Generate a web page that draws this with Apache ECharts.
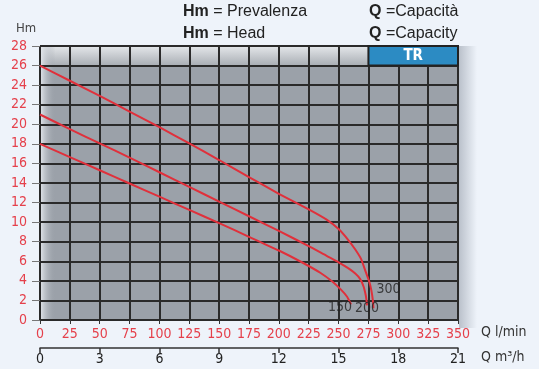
<!DOCTYPE html>
<html><head><meta charset="utf-8">
<script src="https://cdn.jsdelivr.net/npm/echarts@6/dist/echarts.min.js"></script>
<style>html,body{margin:0;padding:0;background:#eef3fa}#c{width:539px;height:369px}</style>
</head><body><div id="c"></div>
<script>
// Data (Q in l/min, H in m)
const curveNames = ['150', '200', '300'];
const q150 = [0, 25, 50, 75, 100, 125, 150, 175, 200, 220, 235, 245, 252, 257, 260.5];
const h150 = [18, 16.65, 15.3, 13.95, 12.6, 11.25, 9.9, 8.5, 7.1, 5.85, 4.8, 3.9, 3.1, 2.4, 1.6];
const q200 = [0, 25, 50, 75, 100, 125, 150, 175, 200, 225, 240, 250, 258, 264, 268, 271, 272.8, 273.5, 273.8];
const h200 = [21, 19.5, 18.05, 16.6, 15.1, 13.6, 12.1, 10.6, 9.1, 7.55, 6.55, 5.9, 5.3, 4.75, 4.2, 3.4, 2.5, 1.9, 1.5];
const q300 = [0, 25, 50, 75, 100, 125, 150, 175, 200, 225, 240, 250, 258, 264, 269, 272.5, 275.5, 277.5, 278.7, 279.2];
const h300 = [26, 24.45, 22.9, 21.3, 19.7, 18.05, 16.35, 14.6, 12.9, 11.3, 10.25, 9.3, 8.2, 7.2, 6.2, 5.0, 4.0, 3.0, 2.0, 1.2];
const qLpmMax = 350, qLpmStep = 25;
const qM3hMax = 21, qM3hStep = 3;
const hMax = 28, hStep = 2;
const modelLabel = 'TR';
const modelFrom = 275;

const red = '#e5404b';
const narrow = "'Liberation Sans Narrow','DejaVu Sans Condensed','Liberation Sans',sans-serif";
const sans = "'Liberation Sans',Arial,sans-serif";

const curves = [[q150, h150], [q200, h200], [q300, h300]];
const labelOffsets = [[-11, 3], [0, 3], [15, -19]];

const chart = echarts.init(document.getElementById('c'), null, {renderer: 'canvas'});
const lineSeries = curves.map((c, i) => ({
  name: curveNames[i], type: 'line', z: 3,
  data: c[0].map((q, j) => [q, c[1][j]]),
  smooth: 0.15, showSymbol: false, symbol: 'none',
  lineStyle: {color: '#e0303b', width: 2},
  silent: true
}));
const labelSeries = {
  type: 'scatter', z: 4, symbolSize: 1, itemStyle: {color: 'rgba(0,0,0,0)'},
  data: curves.map((c, i) => ({
    value: [c[0][c[0].length - 1], c[1][c[1].length - 1]],
    label: {show: true, formatter: curveNames[i], position: 'inside', offset: labelOffsets[i],
      color: '#222', fontSize: 14, fontFamily: narrow}
  })),
  silent: true
};
const bgSeries = {
  type: 'line', data: [], z: -1, silent: true,
  markArea: {silent: true, z: -1, data: [
    [{coord: [0, 0], itemStyle: {color: '#9ba1a9'}}, {coord: [qLpmMax, hMax]}],
    [{coord: [0, hMax - hStep], itemStyle: {color: new echarts.graphic.LinearGradient(0, 0, 0, 1, [
      {offset: 0, color: '#e4e7ea'}, {offset: 1, color: '#a9aeb4'}])}}, {coord: [modelFrom, hMax]}],
    [{coord: [0, 0], itemStyle: {color: new echarts.graphic.LinearGradient(0, 0, 1, 0, [
      {offset: 0, color: 'rgba(232,236,241,0.95)'}, {offset: 1, color: 'rgba(155,161,169,0)'}])}}, {coord: [13, hMax]}]
  ]}
};
const trSeries = {
  type: 'line', data: [], z: 2, silent: true,
  markArea: {silent: true, z: 2, data: [
    [{coord: [modelFrom, hMax - hStep], name: modelLabel,
      itemStyle: {color: '#2c8bc3', borderColor: '#222', borderWidth: 2},
      label: {show: true, position: 'inside', color: '#fff', fontWeight: 'bold', fontSize: 15, fontFamily: narrow}},
     {coord: [qLpmMax, hMax]}]
  ]}
};
const gridLine = {show: true, lineStyle: {color: '#2a2a2a', width: 2}};
chart.setOption({
  backgroundColor: '#eef3fa',
  animation: false,
  grid: {left: 40, right: 81, top: 46, bottom: 49},
  xAxis: [
    {type: 'value', min: 0, max: qLpmMax, interval: qLpmStep, position: 'bottom',
      axisLine: {show: false}, axisTick: {show: true, length: 4, lineStyle: {color: '#333'}},
      axisLabel: {color: red, fontSize: 14, fontFamily: narrow, margin: 7},
      splitLine: gridLine},
    {type: 'value', min: 0, max: qM3hMax, interval: qM3hStep, position: 'bottom', offset: 28,
      axisLine: {show: true, lineStyle: {color: '#333', width: 1.5}},
      axisTick: {show: true, length: 5, lineStyle: {color: '#333', width: 1.5}},
      axisLabel: {color: '#222', fontSize: 14, fontFamily: narrow, margin: 4},
      splitLine: {show: false}}
  ],
  yAxis: {type: 'value', min: 0, max: hMax, interval: hStep,
    axisLine: {show: false}, axisTick: {show: true, length: 8, lineStyle: {color: '#777'}},
    axisLabel: {color: red, fontSize: 14, fontFamily: narrow, margin: 13},
    splitLine: gridLine},
  graphic: [
    {type: 'rect', z: -2, shape: {x: 459, y: 46, width: 18, height: 282},
      style: {fill: new echarts.graphic.LinearGradient(0, 0, 1, 0, [
        {offset: 0, color: 'rgba(90,100,115,0.35)'}, {offset: 1, color: 'rgba(90,100,115,0)'}])}},
    {type: 'text', left: 16, top: 22, style: {text: 'Hm', font: '13px ' + narrow, fill: '#444'}},
    {type: 'text', left: 183, top: 4, style: {text: '{b|Hm} = Prevalenza', fill: '#222',
      font: '16px ' + sans, rich: {b: {fontWeight: 'bold', fontSize: 16, fontFamily: sans, fill: '#222'}}}},
    {type: 'text', left: 183, top: 26, style: {text: '{b|Hm} = Head', fill: '#222',
      font: '16px ' + sans, rich: {b: {fontWeight: 'bold', fontSize: 16, fontFamily: sans, fill: '#222'}}}},
    {type: 'text', left: 369, top: 4, style: {text: '{b|Q} =Capacità', fill: '#222',
      font: '16px ' + sans, rich: {b: {fontWeight: 'bold', fontSize: 16, fontFamily: sans, fill: '#222'}}}},
    {type: 'text', left: 369, top: 26, style: {text: '{b|Q} =Capacity', fill: '#222',
      font: '16px ' + sans, rich: {b: {fontWeight: 'bold', fontSize: 16, fontFamily: sans, fill: '#222'}}}},
    {type: 'text', left: 481, top: 325, style: {text: 'Q l/min', font: '14px ' + narrow, fill: '#333'}},
    {type: 'text', left: 481, top: 350, style: {text: 'Q m³/h', font: '14px ' + narrow, fill: '#333'}}
  ],
  series: [bgSeries, trSeries].concat(lineSeries, [labelSeries])
});
</script></body></html>
